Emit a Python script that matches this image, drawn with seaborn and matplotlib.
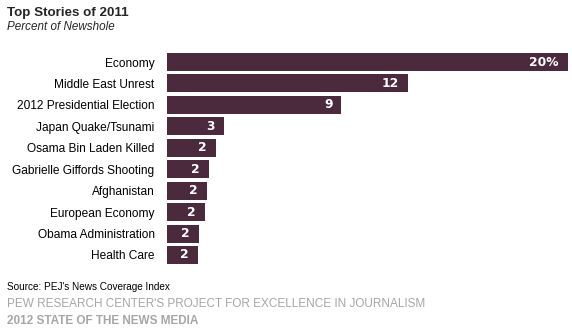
import matplotlib
matplotlib.use("Agg")
import matplotlib.pyplot as plt
import seaborn as sns
import pandas as pd

categories = ["Economy", "Middle East Unrest", "2012 Presidential Election",
              "Japan Quake/Tsunami", "Osama Bin Laden Killed",
              "Gabrielle Giffords Shooting", "Afghanistan", "European Economy",
              "Obama Administration", "Health Care"]
values = [20.0, 12.0, 8.7, 2.84, 2.44, 2.1, 2.0, 1.9, 1.6, 1.55]
labels = ["20%", "12", "9", "3", "2", "2", "2", "2", "2", "2"]

df = pd.DataFrame({"story": categories, "pct": values})

sns.set_theme(style="white")
plt.rcParams["font.family"] = ["Liberation Sans", "DejaVu Sans"]

W, H = 572, 329
fig = plt.figure(figsize=(W / 100, H / 100), dpi=100)
left, right = 167, 568
top, bottom = 51.3, 265.7
ax = fig.add_axes([left / W, 1 - bottom / H, (right - left) / W, (bottom - top) / H])

color = "#4a2a3c"
sns.barplot(data=df, x="pct", y="story", orient="h", color=color,
            saturation=1, width=0.84, linewidth=0, ax=ax)
ax.set_xlim(0, 20)
ax.set_ylim(9.5, -0.5)
ax.set_xlabel("")
ax.set_ylabel("")
ax.set_xticks([])
for s in ax.spines.values():
    s.set_visible(False)
ax.tick_params(axis="y", length=0, pad=9, labelsize=8.6, labelcolor="black")

for i, (v, lab) in enumerate(zip(values, labels)):
    ax.annotate(lab, xy=(v, i), xytext=(-9, 0), textcoords="offset pixels",
                ha="right", va="center", color="white", fontweight="bold",
                fontsize=8.8, family="DejaVu Sans")

fig.text(7 / W, 1 - 13 / H, "Top Stories of 2011", fontsize=9.6,
         fontweight="bold", va="center", ha="left")
fig.text(7 / W, 1 - 27 / H, "Percent of Newshole", fontsize=8.4,
         style="italic", va="center", ha="left")
fig.text(7 / W, 1 - 287 / H, "Source: PEJ's News Coverage Index", fontsize=7.2,
         va="center", ha="left", color="black")
fig.text(7 / W, 1 - 304 / H,
         "PEW RESEARCH CENTER'S PROJECT FOR EXCELLENCE IN JOURNALISM",
         fontsize=8.5, va="center", ha="left", color="#a6a6a6")
fig.text(7 / W, 1 - 321 / H, "2012 STATE OF THE NEWS MEDIA", fontsize=8.5,
         fontweight="bold", va="center", ha="left", color="#a6a6a6")

fig.savefig("out.png", dpi=100)
